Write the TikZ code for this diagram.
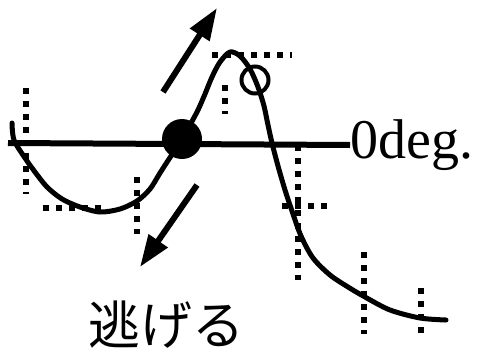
\documentclass[tikz,border=0pt]{standalone}
\usepackage{fontspec}
\setmainfont{Liberation Serif}
\newfontfamily\cjk{Noto Sans CJK JP}
\usetikzlibrary{arrows.meta}
\begin{document}
\begin{tikzpicture}[x=1pt,y=-1pt,
  guide/.style={line width=5.5pt,dash pattern=on 6pt off 7pt},
  curveline/.style={line width=5pt,line join=round,line cap=round},
  bigarrow/.style={line width=6pt,-{Triangle[length=32pt,width=22pt]}}]
\useasboundingbox (0,0) rectangle (478,351);
% axis
\node[anchor=west,inner sep=0pt,font=\fontsize{56}{56}\selectfont] (lab) at (350,145) {0deg.};
\draw[line width=6pt] (8,143) -- (lab.west);
% guides
\draw[guide] (26,88) -- (26,194);
\draw[guide] (43,208) -- (102,208);
\draw[guide] (137,177) -- (137,234);
\draw[guide] (225,85) -- (225,114);
\draw[guide] (212,55) -- (292,55);
\draw[guide] (298,145) -- (298,280);
\draw[guide] (282,206) -- (332,206);
\draw[guide] (364,252) -- (364,334);
\draw[guide] (421,288) -- (421,334);
% curve
\draw[curveline] plot[smooth,tension=0.5] coordinates {(12,123) (14,140) (25,158) (35,172) (47,187) (62,199) (80,207) (100,212) (120,209) (137,201) (150,189) (160,173) (171,156) (182,140) (190,125) (198,110) (205,94) (212,77) (220,62) (230,52) (240,56) (250,69) (258,87) (264,106) (268,125) (272,143) (278,166) (285,190) (292,211) (301,236) (313,258) (330,275) (348,287) (365,297) (390,310) (420,318) (446,320)};
% markers
\node[circle,fill=black,minimum width=40pt,minimum height=35pt,inner sep=0pt] (dot) at (182,139) {};
\node[circle,draw=black,line width=4pt,minimum size=27pt,inner sep=0pt] (ring) at (255,80) {};
% arrows
\coordinate (u1) at (163,92);
\coordinate (u2) at (217,8);
\coordinate (d1) at (197,185);
\coordinate (d2) at (140,267);
\draw[bigarrow] (u1) -- (u2);
\draw[bigarrow] (d1) -- (d2);
% label
\node[inner sep=0pt,font=\cjk\fontsize{52}{52}\selectfont] (nige) at (166,325) {逃げる};
\end{tikzpicture}
\end{document}
